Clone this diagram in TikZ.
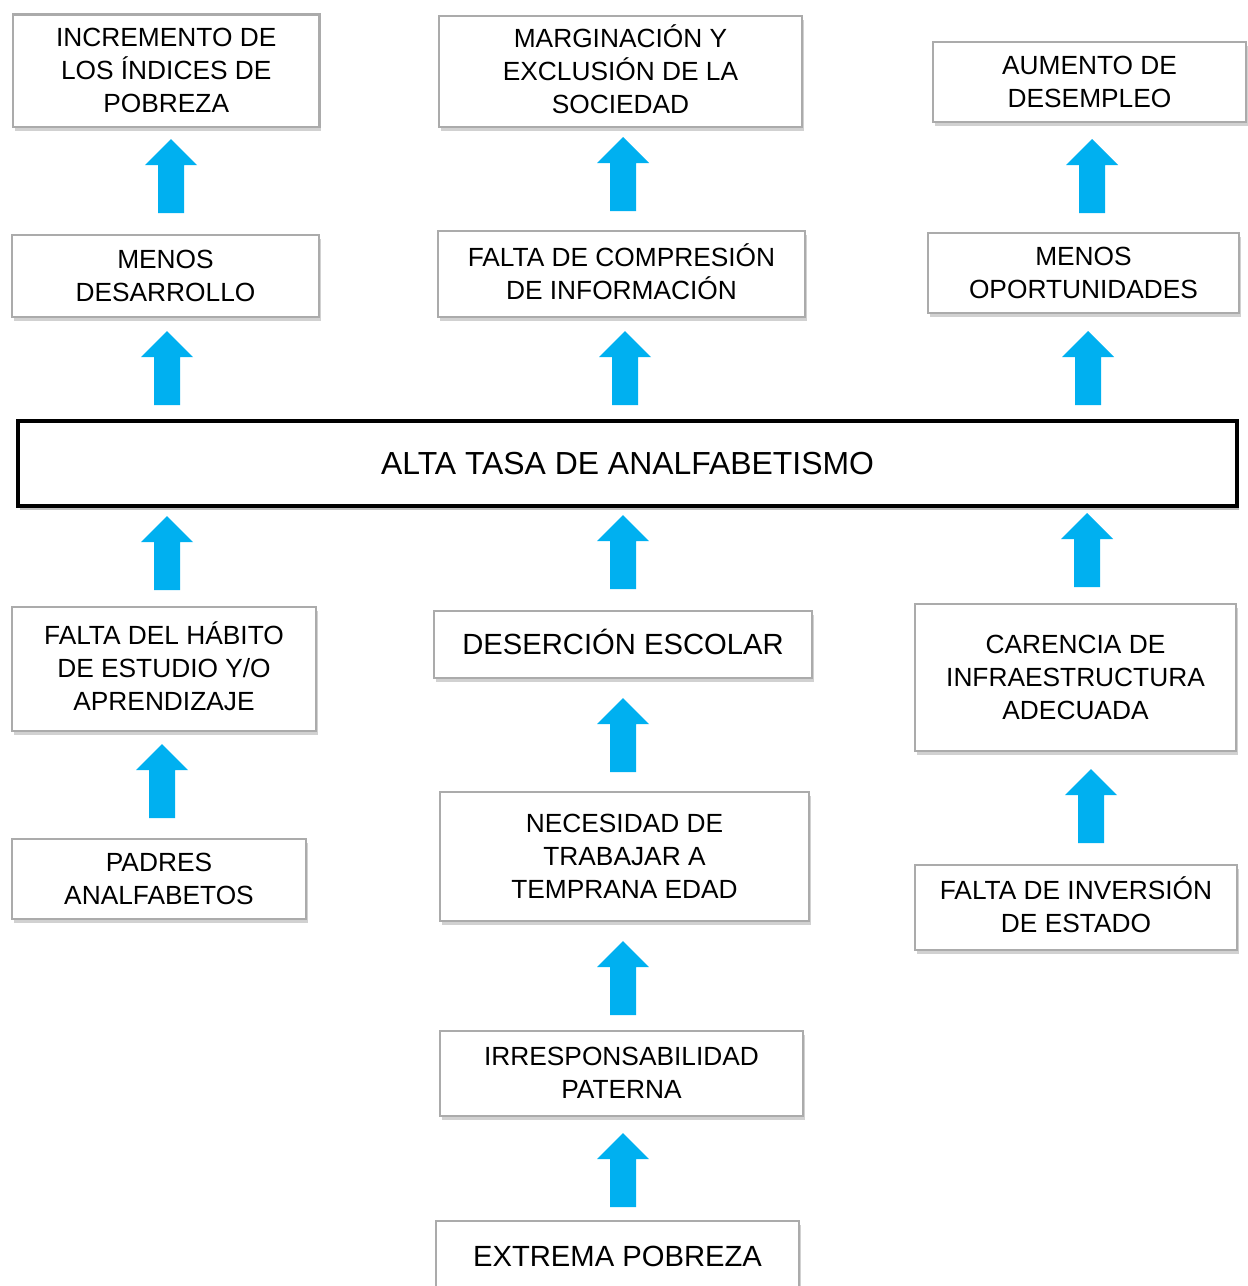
\documentclass[tikz,border=0pt]{standalone}
\usepackage{fontspec}
\setmainfont{Liberation Sans}
\usetikzlibrary{shadows}
\definecolor{arrblue}{HTML}{00B0F0}
\tikzset{
  box/.style={draw=black!33, line width=2.3pt, fill=white, inner sep=0pt, align=center,
    font=\fontsize{26.3}{33}\selectfont,
    drop shadow={shadow xshift=1.5pt, shadow yshift=-4pt, fill=black, opacity=0.18}},
  bigbox/.style={box, font=\fontsize{29.2}{35}\selectfont},
  mainbox/.style={draw=black, line width=4pt, fill=white, inner sep=0pt, align=center,
    font=\fontsize{31.9}{38}\selectfont,
    drop shadow={shadow xshift=2pt, shadow yshift=-4pt, fill=black, opacity=0.25}},
  arr/.style={fill=arrblue}
}
\newcommand\mybox[7][box]{\node[#1, minimum width={(#5-#3)*1pt}, minimum height={(#6-#4)*1pt}] (#2) at ({(#3+#5)/2},{(#4+#6)/2}) {\vphantom{Í}#7\rule[-5.5pt]{0pt}{0pt}};}
\newcommand\uparrowat[3]{%
  \coordinate (#1) at (#2,#3);
  \fill[arr, shift={(#2,#3)}] (-13,0) -- (-13,-48) -- (-26,-48) -- (0,-74) -- (26,-48) -- (13,-48) -- (13,0) -- cycle;}
\begin{document}
\begin{tikzpicture}[x=1pt,y=-1pt]
\useasboundingbox (0,0) rectangle (1248,1286);
\fill[white] (0,0) rectangle (1248,1286);
% top row
\mybox{b1}{13}{14.5}{319.5}{127}{INCREMENTO DE\\LOS ÍNDICES DE\\POBREZA}
\mybox{b2}{439}{16}{802}{127}{MARGINACIÓN Y\\EXCLUSIÓN DE LA\\SOCIEDAD}
\mybox{b3}{933}{42}{1246}{122}{AUMENTO DE\\DESEMPLEO}
% second row
\mybox{b4}{12}{235}{319}{317}{MENOS\\DESARROLLO}
\mybox{b5}{438}{231}{805}{317}{FALTA DE COMPRESIÓN\\DE INFORMACIÓN}
\mybox{b6}{928}{233}{1239}{313}{MENOS\\OPORTUNIDADES}
% main
\node[mainbox, minimum width=1219pt, minimum height=85pt] (main) at (627.5,463.5) {ALTA TASA DE ANALFABETISMO};
% lower rows
\mybox{b8}{12}{607}{316}{731}{FALTA DEL HÁBITO\\DE ESTUDIO Y/O\\APRENDIZAJE}
\mybox[bigbox]{b9}{434}{611}{812}{678}{DESERCIÓN ESCOLAR}
\mybox{b10}{915}{604}{1236}{751}{CARENCIA DE\\INFRAESTRUCTURA\\ADECUADA}
\mybox{b11}{12}{839}{306}{919}{PADRES\\ANALFABETOS}
\mybox{b12}{440}{792}{809}{921}{NECESIDAD DE\\TRABAJAR A\\TEMPRANA EDAD}
\mybox{b13}{915}{865}{1237}{950}{FALTA DE INVERSIÓN\\DE ESTADO}
\mybox{b14}{440}{1031}{803}{1116}{IRRESPONSABILIDAD\\PATERNA}
\node[bigbox, minimum width=363pt, minimum height=99pt] (b15) at (617.5,1270.5) {};
\node[font=\fontsize{29.2}{35}\selectfont, inner sep=0pt] (t15) at (617.5,1256) {EXTREMA POBREZA};
% arrows
\uparrowat{a1}{171}{213}
\uparrowat{a2}{623}{211}
\uparrowat{a3}{1092}{213}
\uparrowat{a4}{167}{405}
\uparrowat{a5}{625}{405}
\uparrowat{a6}{1088}{405}
\uparrowat{a7}{167}{590}
\uparrowat{a8}{623}{589}
\uparrowat{a9}{1087}{587}
\uparrowat{a10}{162}{818}
\uparrowat{a11}{623}{772}
\uparrowat{a12}{1091}{843}
\uparrowat{a13}{623}{1015}
\uparrowat{a14}{623}{1207}
\end{tikzpicture}
\end{document}
